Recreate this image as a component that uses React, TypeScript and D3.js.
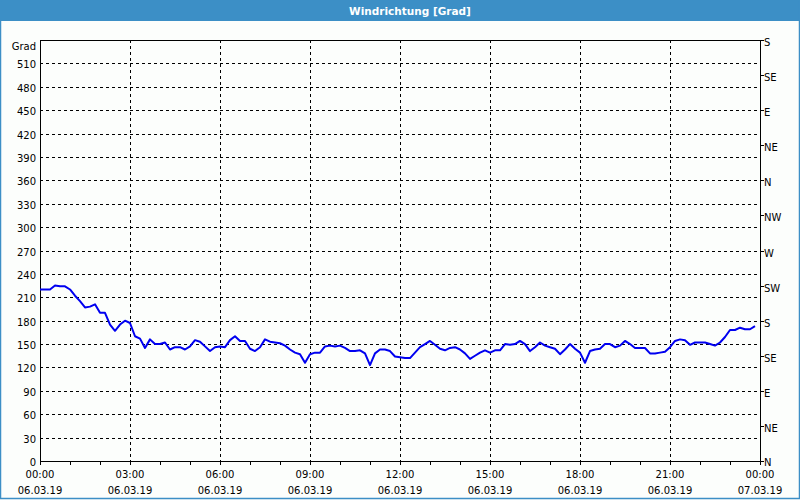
import React from "react";
import * as d3 from "d3";

const title = "Windrichtung [Grad]";
const yUnit = "Grad";
// wind direction in degrees, one sample every 10 minutes starting 06.03.19 00:00
const directionValues: number[] = [
  220, 220, 220, 225, 224, 224, 220, 212, 205, 197,
  198, 201, 190, 190, 175, 167, 175, 180, 177, 160,
  157, 145, 156, 150, 150, 152, 143, 146, 146, 143,
  147, 155, 153, 147, 141, 146, 147, 146, 155, 160,
  154, 154, 144, 141, 146, 156, 153, 152, 151, 148,
  143, 139, 137, 126, 137, 139, 139, 147, 148, 147,
  148, 145, 141, 141, 142, 138, 123, 138, 143, 143,
  141, 134, 133, 132, 132, 139, 146, 150, 154, 149,
  144, 142, 145, 146, 143, 138, 131, 135, 139, 142,
  139, 142, 142, 150, 149, 150, 154, 150, 141, 146,
  152, 148, 146, 144, 137, 143, 150, 144, 139, 126,
  141, 143, 144, 150, 150, 146, 148, 154, 150, 145,
  145, 145, 138, 138, 139, 140, 146, 154, 156, 155,
  149, 152, 152, 152, 150, 148, 152, 159, 168, 168,
  171, 169, 169, 173,
];
const sampleMinutes = 10;
const leftTicks = [0, 30, 60, 90, 120, 150, 180, 210, 240, 270, 300, 330, 360, 390, 420, 450, 480, 510];
const rightTicks = [0, 45, 90, 135, 180, 225, 270, 315, 360, 405, 450, 495, 540];
const rightLabels = ["N", "NE", "E", "SE", "S", "SW", "W", "NW", "N", "NE", "E", "SE", "S"];
const hourTicks = d3.range(0, 25);
const majorHours = [0, 3, 6, 9, 12, 15, 18, 21, 24];
const timeLabels = ["00:00", "03:00", "06:00", "09:00", "12:00", "15:00", "18:00", "21:00", "00:00"];
const dateLabels = ["06.03.19", "06.03.19", "06.03.19", "06.03.19", "06.03.19", "06.03.19", "06.03.19", "06.03.19", "07.03.19"];

const W = 800;
const H = 500;
const L = 40, R = 760, T = 40, B = 461;
const FONT = "DejaVu Sans, Tahoma, sans-serif";
const BLUE_BAR = "#3c8fc6";

export default function App() {
  const x = d3.scaleLinear().domain([0, 24 * 60]).range([L, R]);
  const y = d3.scaleLinear().domain([0, 540]).range([B, T]);
  const line = d3
    .line<number>()
    .x((_, i) => x(i * sampleMinutes))
    .y((d) => y(d));
  const px = (v: number) => Math.round(v) + 0.5;

  return (
    <svg
      width={W}
      height={H}
      style={{ position: "absolute", left: 0, top: 0, display: "block" }}
      fontFamily={FONT}
    >
      <rect x={0} y={0} width={W} height={H} fill="#fcfefc" />
      <rect x={0} y={0} width={W} height={21} fill={BLUE_BAR} />
      <text x={410} y={15} fill="#ffffff" fontSize={10.5} fontWeight="bold" textAnchor="middle">
        {title}
      </text>
      {/* outer border */}
      <rect x={0.5} y={0.5} width={W - 1} height={498} fill="none" stroke={BLUE_BAR} strokeWidth={1.5} />

      {/* horizontal grid */}
      {leftTicks.filter((t) => t > 0).map((t) => (
        <line key={"h" + t} x1={L} x2={R} y1={px(y(t))} y2={px(y(t))} stroke="#000" strokeWidth={1} strokeDasharray="3,3" />
      ))}
      {/* vertical grid */}
      {majorHours.filter((h) => h > 0 && h < 24).map((h) => (
        <line key={"v" + h} x1={px(x(h * 60))} x2={px(x(h * 60))} y1={T} y2={B} stroke="#000" strokeWidth={1} strokeDasharray="3,3" />
      ))}

      {/* frame */}
      <line x1={L} x2={R + 0.5} y1={T + 0.5} y2={T + 0.5} stroke="#000" />
      <line x1={L + 0.5} x2={L + 0.5} y1={T} y2={B + 1} stroke="#000" />
      <line x1={L} x2={R + 1} y1={B + 0.5} y2={B + 0.5} stroke="#000" />
      <line x1={R + 0.5} x2={R + 0.5} y1={T} y2={B + 1} stroke="#000" />

      {/* left labels */}
      <text x={36} y={50} fontSize={10} textAnchor="end" fill="#000">{yUnit}</text>
      {leftTicks.map((t) => (
        <text key={"l" + t} x={36} y={y(t) + 5} fontSize={10} textAnchor="end" fill="#000">
          {t}
        </text>
      ))}

      {/* right ticks + labels */}
      {rightTicks.map((t, i) => (
        <g key={"r" + i}>
          <line x1={R} x2={R + 4} y1={px(y(t))} y2={px(y(t))} stroke="#000" />
          <text x={764} y={Math.min(y(t) + 6, B + 4.5)} fontSize={10} fill="#000">
            {rightLabels[i]}
          </text>
        </g>
      ))}

      {/* bottom ticks */}
      {hourTicks.map((h) => (
        <line key={"bt" + h} x1={px(x(h * 60))} x2={px(x(h * 60))} y1={B} y2={B + 4} stroke="#000" />
      ))}
      {majorHours.map((h, i) => (
        <g key={"bl" + h}>
          <text x={x(h * 60)} y={478} fontSize={10} textAnchor="middle" fill="#000">
            {timeLabels[i]}
          </text>
          <text x={x(h * 60)} y={494} fontSize={10} textAnchor="middle" fill="#000">
            {dateLabels[i]}
          </text>
        </g>
      ))}

      {/* data line */}
      <path d={line(directionValues) || ""} fill="none" stroke="#0000f0" strokeWidth={2} strokeLinejoin="round" />
    </svg>
  );
}
